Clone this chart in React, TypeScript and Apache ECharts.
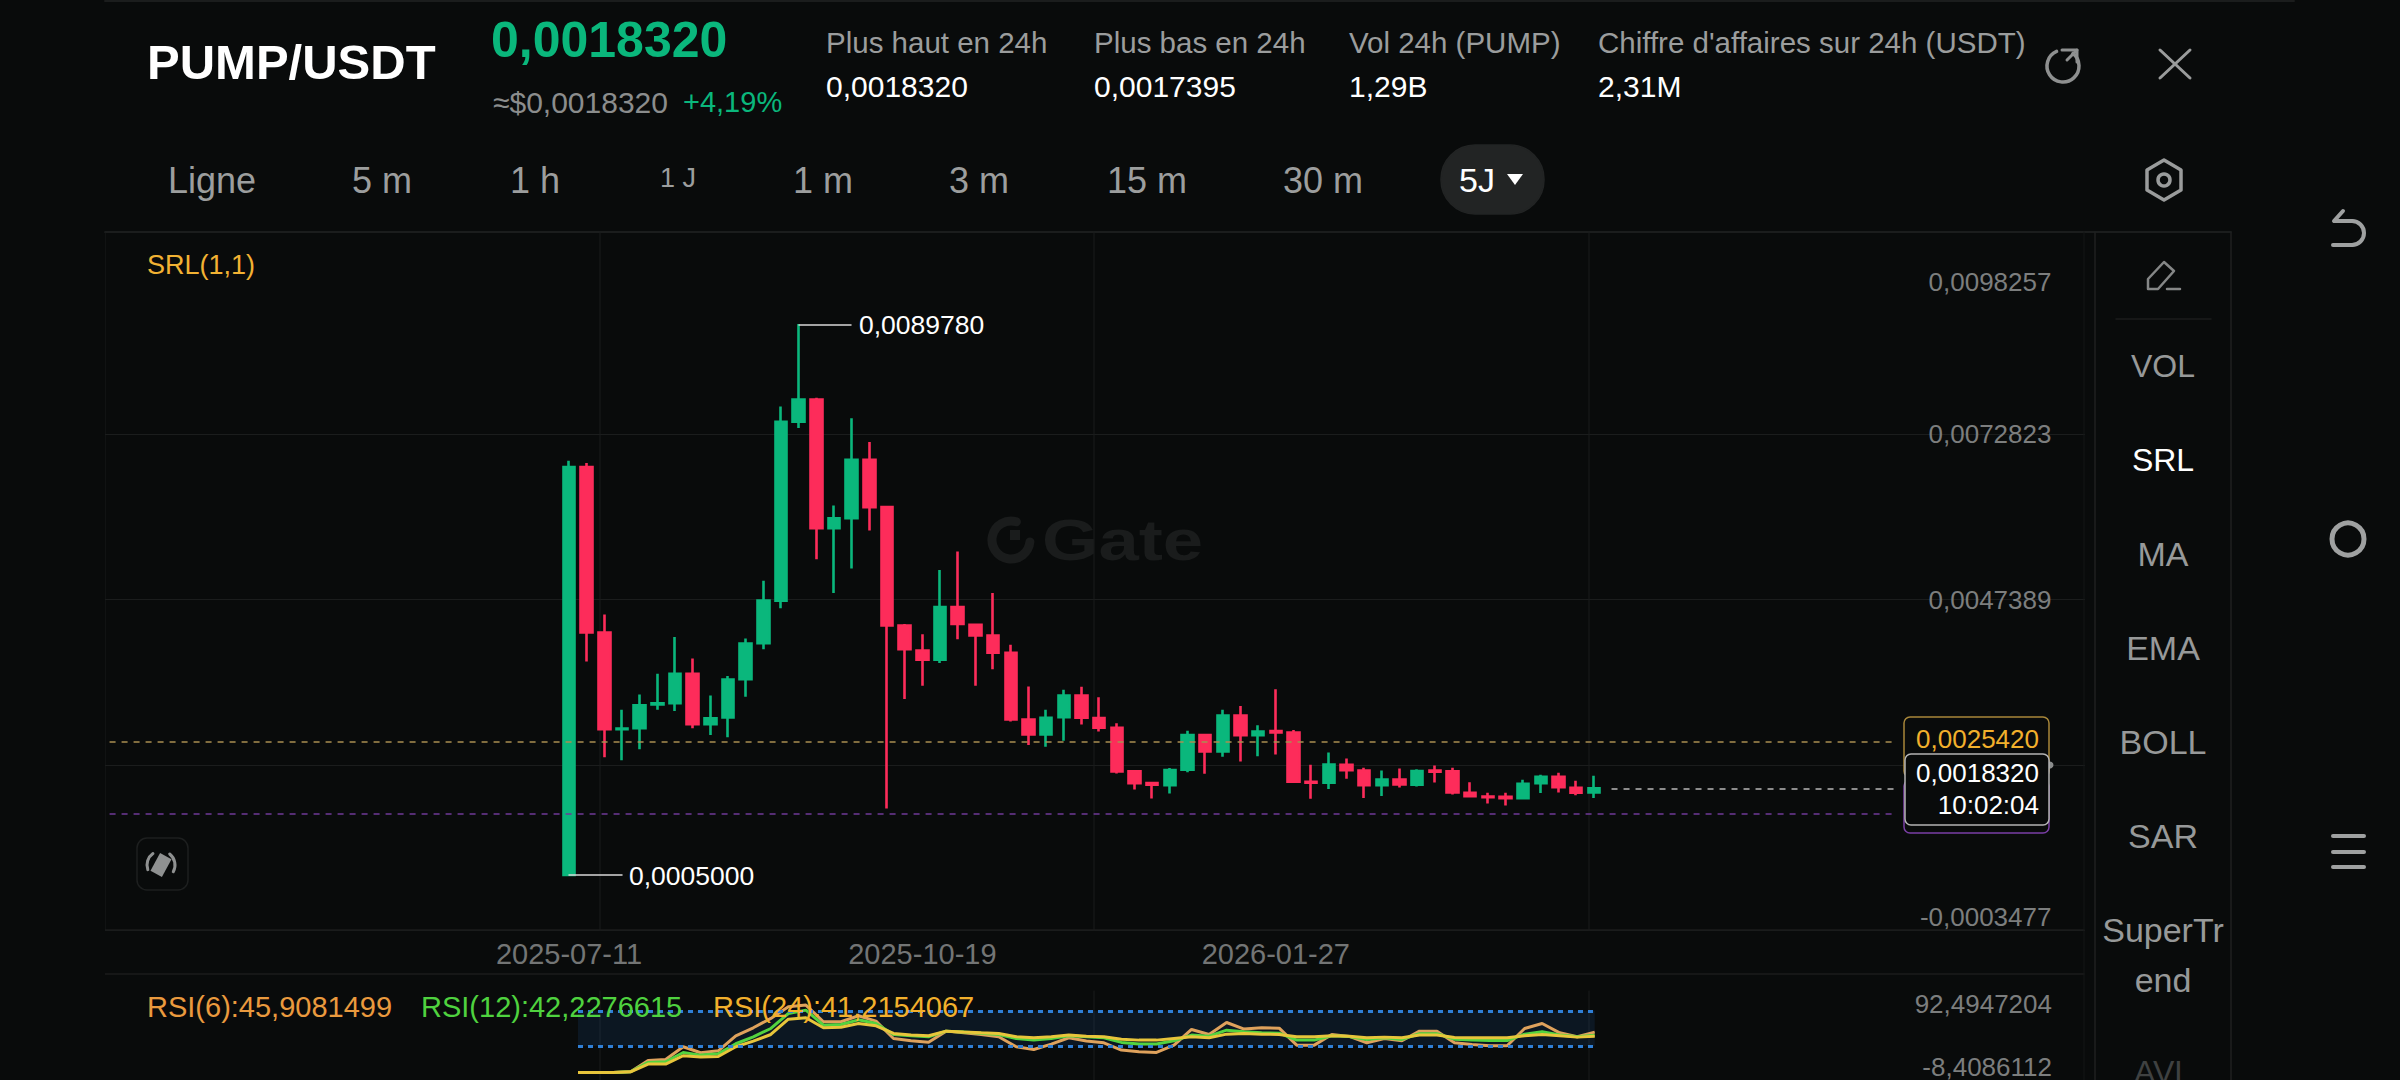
import React, { useEffect, useRef } from "react";
import * as echarts from "echarts";

const dates = ["2025-07-11","2025-07-16","2025-07-21","2025-07-26","2025-07-31","2025-08-05","2025-08-10","2025-08-15","2025-08-20","2025-08-25","2025-08-30","2025-09-04","2025-09-09","2025-09-14","2025-09-19","2025-09-24","2025-09-29","2025-10-04","2025-10-09","2025-10-14","2025-10-19","2025-10-24","2025-10-29","2025-11-03","2025-11-08","2025-11-13","2025-11-18","2025-11-23","2025-11-28","2025-12-03","2025-12-08","2025-12-13","2025-12-18","2025-12-23","2025-12-28","2026-01-02","2026-01-07","2026-01-12","2026-01-17","2026-01-22","2026-01-27","2026-02-01","2026-02-06","2026-02-11","2026-02-16","2026-02-21","2026-02-26","2026-03-03","2026-03-08","2026-03-13","2026-03-18","2026-03-23","2026-03-28","2026-04-02","2026-04-07","2026-04-12","2026-04-17","2026-04-22","2026-04-27"];
const labelledDates = ["2025-07-11", "2025-10-19", "2026-01-27"];

const opens = [0.0005,0.006779,0.004232,0.002741,0.002759,0.003124,0.003142,0.003596,0.002818,0.002924,0.003513,0.004067,0.004722,0.007475,0.007817,0.005836,0.005989,0.006891,0.00616,0.004338,0.003955,0.003814,0.004621,0.00435,0.004185,0.003918,0.002893,0.002662,0.002928,0.003262,0.002913,0.002764,0.002093,0.001913,0.001882,0.002118,0.002652,0.0024,0.002954,0.002652,0.002713,0.002693,0.001933,0.001918,0.002195,0.002108,0.001882,0.001969,0.001887,0.002108,0.002093,0.001764,0.001708,0.001703,0.001682,0.001913,0.00201,0.001841,0.001769];
const closes = [0.006779,0.004232,0.002741,0.002753,0.003112,0.003142,0.003596,0.002818,0.002912,0.003507,0.004061,0.004722,0.007475,0.007817,0.005836,0.005989,0.006891,0.00616,0.004338,0.003973,0.003814,0.004621,0.004362,0.004185,0.00392,0.002893,0.002662,0.002918,0.003262,0.002918,0.002764,0.002093,0.001913,0.001887,0.002113,0.002652,0.0024,0.002954,0.002652,0.002708,0.002693,0.001933,0.001918,0.0022,0.002113,0.001882,0.001969,0.001892,0.002098,0.002087,0.001769,0.001713,0.001698,0.001682,0.001903,0.00201,0.001851,0.001764,0.001832];
const lows = [0.0005,0.003784,0.002311,0.002263,0.002434,0.003042,0.003024,0.002759,0.002652,0.002617,0.003242,0.003973,0.004604,0.00738,0.005358,0.004839,0.005217,0.0058,0.001521,0.003207,0.003413,0.003761,0.004126,0.003413,0.003666,0.002862,0.002498,0.002472,0.002564,0.002816,0.002708,0.002062,0.001816,0.001677,0.001754,0.002082,0.002057,0.002318,0.002246,0.002328,0.002354,0.001933,0.001672,0.001821,0.00198,0.001682,0.001713,0.001846,0.001862,0.001923,0.001739,0.001698,0.0016,0.001569,0.001672,0.001759,0.001769,0.001728,0.001682];
const highs = [0.006873,0.006838,0.004509,0.003042,0.003277,0.003596,0.004162,0.003831,0.00326,0.00356,0.004138,0.005028,0.00771,0.008978,0.007846,0.006184,0.007528,0.007162,0.00616,0.004362,0.004203,0.005193,0.005476,0.004362,0.004839,0.004041,0.0034,0.003041,0.003349,0.003395,0.003236,0.002836,0.002103,0.001933,0.002144,0.002718,0.002662,0.003041,0.003098,0.002805,0.003359,0.002729,0.002195,0.002385,0.002292,0.002149,0.002108,0.002139,0.002128,0.002185,0.002149,0.001928,0.001764,0.001764,0.001964,0.002041,0.002072,0.001949,0.002026];

const rsi6 = [0.2,0.2,0.2,0.9,13.8,14.9,29.3,22.5,24.7,41.7,50.8,61.4,74.6,76.5,57.6,57.6,64.4,58.3,38.7,36.1,34.5,47.0,45.1,43.2,40.6,29.3,26.2,32.3,39.5,35.7,33.8,25.5,23.6,22.8,31.1,48.9,43.2,56.8,49.3,50.8,50.4,31.1,31.1,43.2,41.0,33.8,38.7,36.1,47.0,47.0,33.8,31.9,30.4,30.4,50.0,55.7,45.1,40.6,45.9];
const rsi12 = [0.2,0.2,0.2,0.9,11.5,12.3,22.8,19.8,21.3,32.7,40.6,50.0,67.0,70.8,53.8,54.6,59.8,55.7,43.2,41.7,40.6,47.0,45.9,44.7,43.2,38.7,36.8,38.7,41.7,40.6,39.5,34.2,32.3,32.3,36.1,42.5,41.3,48.1,46.3,45.1,44.7,36.8,36.8,41.7,41.0,37.6,39.5,37.6,44.0,44.0,37.9,36.8,36.4,36.4,43.6,46.3,42.5,40.6,42.2];
const rsi24 = [0.2,0.2,0.2,0.9,9.6,9.6,19.1,17.6,18.3,29.3,35.7,43.2,60.6,62.1,50.8,51.5,55.7,53.0,44.4,42.5,41.7,47.0,45.9,45.1,44.4,40.6,39.5,40.6,42.5,41.3,40.6,37.9,36.8,36.8,38.7,40.6,39.5,43.6,44.4,43.6,43.2,40.6,40.6,41.7,41.3,39.5,40.2,39.5,42.5,42.5,39.8,39.5,39.5,39.5,41.7,43.2,41.7,40.2,41.2];

const priceTicks = [-0.0003477, 0.0021955, 0.0047389, 0.0072823, 0.0098257];
const priceLabels = [-0.0003477, 0.0047389, 0.0072823, 0.0098257];
const rsiTicks = [-8.4086112, 92.4947204];
const srlHigh = 0.002542;
const srlLow = 0.0014353;
const lastPrice = 0.001832;

const tabs = [["Ligne", 212], ["5 m", 382], ["1 h", 535], ["1 J", 678], ["1 m", 823], ["3 m", 979], ["15 m", 1147], ["30 m", 1323]] as const;
const indicators = [["VOL", 366], ["SRL", 460], ["MA", 554], ["EMA", 648], ["BOLL", 742], ["SAR", 836], ["SuperTr", 930], ["end", 980]] as const;

const BG = "#090b0b";
const GREEN = "#0ab77c";
const RED = "#fd2c5a";
const GRIDC = "#1b1d1d";
const FONT = "'Liberation Sans', Arial, sans-serif";

const BAND = 17.67;
const PAD_L = 26;
const PAD_R = 28;
const MAIN_LEFT = 569 - BAND / 2 - PAD_L * BAND;
const MAIN_W = (PAD_L + 59 + PAD_R) * BAND;
const RBAND = 17.53;
const RPAD_L = 27;
const RPAD_R = 28;
const RSI_LEFT = 578 - RBAND / 2 - RPAD_L * RBAND;
const RSI_W = (RPAD_L + 59 + RPAD_R) * RBAND;

const fmt = (v: number, n: number) => v.toFixed(n).replace(".", ",");

function t(text: string, x: number, y: number, size: number, fill: string, o: any = {}) {
  const { align = "left", weight = "normal", z = 100, opacity = 1, scaleX = 1 } = o;
  return {
    type: "text", x, y, z, scaleX, silent: true,
    style: { text, fill, opacity, font: `${weight} ${size}px ${FONT}`, textAlign: align, textVerticalAlign: "middle" },
  };
}
function ln(x1: number, y1: number, x2: number, y2: number, stroke: string, lineWidth = 1, z = 1) {
  return { type: "line", z, silent: true, shape: { x1, y1, x2, y2 }, style: { stroke, lineWidth, lineCap: "round" } };
}
function poly(points: number[][], stroke: string, lineWidth: number, closed = false) {
  return { type: closed ? "polygon" : "polyline", z: 100, silent: true, shape: { points }, style: { stroke, fill: "none", lineWidth, lineJoin: "round", lineCap: "round" } };
}
function arc(cx: number, cy: number, r: number, a0: number, a1: number, stroke: string, lineWidth: number, z = 100) {
  return { type: "arc", z, silent: true, shape: { cx, cy, r, startAngle: a0, endAngle: a1 }, style: { stroke, fill: "none", lineWidth, lineCap: "round" } };
}
function box(x: number, y: number, w: number, h: number, fill: string, stroke: string, r: number, z = 100, lineWidth = 1.5) {
  return { type: "rect", z, silent: true, shape: { x, y, width: w, height: h, r }, style: { fill, stroke, lineWidth } };
}

const GR = "#9b9d9d";
const TABC = "#9c9e9e";

function chrome(): any[] {
  const els: any[] = [];
  // frame lines
  els.push(ln(105, 1, 2294, 1, "#1b1d1d", 2));
  els.push(ln(105, 232, 2231, 232, "#222424", 1.5));
  els.push(ln(105, 232, 105, 930, GRIDC));
  els.push(ln(105, 974, 2084, 974, GRIDC, 1.5));
  els.push(ln(105, 930, 2084, 930, GRIDC, 1.5));
  els.push(ln(2084, 232, 2084, 1080, "#141616"));
  for (const x of [600, 1094, 1589]) {
    els.push(ln(x, 232, x, 930, GRIDC));
    els.push(ln(x, 991, x, 1080, GRIDC));
  }
  // edge covers so the axis lines stop at the chart frame
  els.push({ type: "rect", z: 2, silent: true, shape: { x: 90, y: 233, width: 15, height: 847 }, style: { fill: BG } });
  els.push({ type: "rect", z: 2, silent: true, shape: { x: 2085, y: 233, width: 16, height: 847 }, style: { fill: BG } });

  // header
  els.push(t("PUMP/USDT", 147, 62, 49, "#ffffff", { weight: "bold" }));
  els.push(t("0,0018320", 491, 40, 50, GREEN, { weight: "bold" }));
  els.push(t("≈$0,0018320", 493, 102, 30, "#8b8d8d"));
  els.push(t("+4,19%", 683, 102, 29, GREEN));
  const stats = [
    ["Plus haut en 24h", "0,0018320", 826],
    ["Plus bas en 24h", "0,0017395", 1094],
    ["Vol 24h (PUMP)", "1,29B", 1349],
    ["Chiffre d'affaires sur 24h (USDT)", "2,31M", 1598],
  ] as const;
  for (const [a, b, x] of stats) {
    els.push(t(a, x, 42, 29.5, GR));
    els.push(t(b, x, 86, 30, "#ffffff"));
  }
  // refresh and close
  els.push(arc(2063, 66, 16, -0.9, 4.3, "#8e9090", 3.5));
  els.push(poly([[2062, 50], [2077, 50], [2077, 62]], "#8e9090", 3));
  els.push(ln(2067, 60, 2077, 50, "#8e9090", 3, 100));
  els.push(ln(2160, 50, 2190, 78, "#9a9c9c", 3, 100));
  els.push(ln(2190, 50, 2160, 78, "#9a9c9c", 3, 100));

  // tabs
  for (const [label, x] of tabs) {
    els.push(t(label, x, label === "1 J" ? 178 : 180, label === "1 J" ? 27 : 36, TABC, { align: "center" }));
  }
  els.push(box(1441, 145, 103, 69, "#222424", "#222424", 34));
  els.push(t("5J", 1477, 180, 34, "#ffffff", { align: "center" }));
  els.push({ type: "polygon", z: 101, silent: true, shape: { points: [[1507, 174], [1523, 174], [1515, 185]] }, style: { fill: "#ffffff" } });
  els.push(poly([[2164, 160], [2181, 170], [2181, 190], [2164, 200], [2147, 190], [2147, 170]], "#9a9c9c", 3.5, true));
  els.push({ type: "circle", z: 100, silent: true, shape: { cx: 2164, cy: 180, r: 6 }, style: { fill: "none", stroke: "#9a9c9c", lineWidth: 3.5 } });

  // android nav
  els.push(poly([[2343, 211], [2334, 221], [2352, 221]], "#9fa1a1", 4));
  els.push(arc(2352, 233, 12, -Math.PI / 2, Math.PI / 2, "#9fa1a1", 4));
  els.push(ln(2352, 245, 2333, 245, "#9fa1a1", 4, 100));
  els.push({ type: "circle", z: 100, silent: true, shape: { cx: 2348, cy: 539, r: 16 }, style: { fill: "none", stroke: "#9fa1a1", lineWidth: 5 } });
  for (const y of [836, 852, 867]) els.push(ln(2333, y, 2364, y, "#9fa1a1", 4, 100));

  // indicator panel
  els.push(ln(2095, 232, 2095, 1080, "#1f2121", 1.5, 3));
  els.push(ln(2231, 232, 2231, 1080, "#1f2121", 1.5, 3));
  els.push(ln(2116, 319, 2211, 319, "#1b1d1d", 1.5, 3));
  els.push(poly([[2148, 289], [2148, 279], [2164, 262], [2174, 271], [2158, 289]], "#858787", 2.5, true));
  els.push(ln(2167, 289, 2180, 289, "#858787", 2.5, 100));
  for (const [label, y] of indicators) {
    els.push(t(label, 2163, y, label === "VOL" || label === "SRL" ? 32 : 34, label === "SRL" ? "#ffffff" : "#979999", { align: "center" }));
  }
  els.push(t("AVL", 2163, 1072, 32, "#3f4141", { align: "center" }));

  // watermark
  els.push(arc(1011, 540, 19, 0.1, 5.0, "#1a1c1c", 9, 1));
  els.push({ type: "rect", z: 1, silent: true, shape: { x: 1010, y: 530, width: 10, height: 10 }, style: { fill: "#1a1c1c" } });
  els.push(t("Gate", 1042, 540, 58, "#1a1c1c", { weight: "bold", z: 1, scaleX: 1.25 }));

  // indicator titles
  els.push(t("SRL(1,1)", 147, 265, 27, "#f2b233"));
  els.push(t("RSI(6):45,9081499", 147, 1007, 29, "#ea9a3e"));
  els.push(t("RSI(12):42,2276615", 421, 1007, 29, "#4fd23f"));
  els.push(t("RSI(24):41,2154067", 713, 1007, 29, "#f2b02c"));

  // extreme annotations
  els.push(ln(799, 325, 851, 325, "#d8d8d8", 1.5, 50));
  els.push(t("0,0089780", 859, 325, 26.5, "#ffffff"));
  els.push(ln(569, 875, 622, 875, "#d8d8d8", 1.5, 50));
  els.push(t("0,0005000", 629, 876, 26.5, "#ffffff"));

  // small tool button
  els.push(box(137, 838, 51, 52, "none", "#1d1f1f", 10, 100, 1.5));
  els.push({ type: "rect", z: 100, silent: true, x: 161, y: 865, rotation: -0.5, shape: { x: -6.5, y: -10, width: 13, height: 20 }, style: { fill: "#8f9191" } });
  els.push(arc(161, 865, 14, 2.8, 4.1, "#8f9191", 3));
  els.push(arc(161, 865, 14, -0.9, 0.5, "#8f9191", 3));

  // price boxes
  els.push(box(1904, 717, 145, 60, BG, "#a8873a", 6));
  els.push(box(1904, 780, 145, 53, BG, "#7a3fa6", 6));
  els.push(t(fmt(srlHigh, 7), 2039, 739, 26, "#f2b02c", { align: "right", z: 102 }));
  els.push(box(1905, 754, 144, 71, BG, "#b4b4b4", 6, 103));
  els.push(t(fmt(lastPrice, 7), 2039, 773, 26, "#ffffff", { align: "right", z: 104 }));
  els.push(t("10:02:04", 2039, 805, 26, "#ffffff", { align: "right", z: 104 }));
  els.push({ type: "circle", z: 102, silent: true, shape: { cx: 2050, cy: 765, r: 3.5 }, style: { fill: "#8a8c8c" } });
  return els;
}

function dashed(value: number, from: number, to: number, color: string) {
  return [
    { xAxis: from, yAxis: value, lineStyle: { color, type: [6, 6], width: 1.5 } },
    { xAxis: to, yAxis: value },
  ];
}

export default function App() {
  const ref = useRef<HTMLDivElement>(null);
  useEffect(() => {
    document.body.style.margin = "0";
    document.body.style.background = BG;
    const chart = echarts.init(ref.current!, undefined, { renderer: "svg" });
    const mainCats = [...Array(PAD_L).fill(""), ...dates, ...Array(PAD_R).fill("")];
    const rsiCats = [...Array(RPAD_L).fill(""), ...dates, ...Array(RPAD_R).fill("")];
    const candleRows = dates.map((_, i) => [i + PAD_L, opens[i], closes[i], lows[i], highs[i]]);
    const rsiSeries = (name: string, values: number[], color: string, extra: any = {}) => ({
      name, type: "line", xAxisIndex: 1, yAxisIndex: 1, showSymbol: false, silent: true,
      data: values.map((v, i) => [i + RPAD_L, v]),
      lineStyle: { color, width: 3 }, itemStyle: { color }, ...extra,
    });
    chart.setOption({
      animation: false,
      backgroundColor: BG,
      textStyle: { fontFamily: FONT },
      grid: [
        { left: MAIN_LEFT, top: 269, width: MAIN_W, height: 661 },
        { left: RSI_LEFT, top: 991, width: RSI_W, height: 89 },
      ],
      xAxis: [
        {
          type: "category", gridIndex: 0, data: mainCats, boundaryGap: true,
          axisLine: { show: false }, axisTick: { show: false }, splitLine: { show: false },
          axisLabel: {
            margin: 9, fontSize: 29, color: "#737575", fontFamily: FONT,
            interval: (_: number, v: string) => labelledDates.includes(v),
          },
        },
        {
          type: "category", gridIndex: 1, data: rsiCats, boundaryGap: true,
          axisLine: { show: false }, axisTick: { show: false }, axisLabel: { show: false }, splitLine: { show: false },
        },
      ],
      yAxis: [
        {
          type: "value", gridIndex: 0, position: "right", min: priceTicks[0], max: priceTicks[4], scale: true,
          axisLine: { show: false },
          axisTick: { show: false, customValues: priceTicks },
          splitLine: { show: true, showMaxLine: false, lineStyle: { color: GRIDC, width: 1 } },
          axisLabel: {
            inside: true, margin: 46, fontSize: 26, color: "#7c7e7e", fontFamily: FONT, customValues: priceLabels,
            verticalAlignMinLabel: "bottom", verticalAlignMaxLabel: "top",
            formatter: (v: number) => fmt(v, 7),
          },
        },
        {
          type: "value", gridIndex: 1, position: "right", min: rsiTicks[0], max: rsiTicks[1], scale: true,
          axisLine: { show: false },
          axisTick: { show: false, customValues: rsiTicks },
          splitLine: { show: false },
          axisLabel: {
            inside: true, margin: RSI_LEFT + RSI_W - 2052, fontSize: 26, color: "#7c7e7e", fontFamily: FONT, customValues: rsiTicks,
            verticalAlignMinLabel: "bottom", verticalAlignMaxLabel: "top",
            formatter: (v: number) => fmt(v, 7),
          },
        },
      ],
      series: [
        {
          type: "candlestick", xAxisIndex: 0, yAxisIndex: 0, barWidth: 12, silent: true,
          encode: { x: 0, y: [1, 2, 3, 4] },
          data: candleRows,
          itemStyle: { color: GREEN, color0: RED, borderColor: GREEN, borderColor0: RED, borderColorDoji: GREEN, borderWidth: 2.6 },
          markLine: {
            silent: true, symbol: "none", label: { show: false }, animation: false,
            data: [
              dashed(srlHigh, 0, 101, "#a98f52"),
              dashed(srlLow, 0, 101, "#6f3a98"),
              dashed(lastPrice, 85, 101, "#b8b8b8"),
            ],
          },
        },
        rsiSeries("RSI(6)", rsi6, "#dfa25c", {
          markArea: {
            silent: true,
            itemStyle: { color: "rgba(38,105,190,0.13)" },
            data: [[{ xAxis: RPAD_L, yAxis: 70 }, { xAxis: RPAD_L + 58, yAxis: 30 }]],
          },
          markLine: {
            silent: true, symbol: "none", label: { show: false }, animation: false,
            lineStyle: { color: "#2f7fd6", type: [5, 5], width: 3 },
            data: [70, 30].map((v) => [{ xAxis: RPAD_L, yAxis: v }, { xAxis: RPAD_L + 58, yAxis: v }]),
          },
        }),
        rsiSeries("RSI(12)", rsi12, "#53d33f"),
        rsiSeries("RSI(24)", rsi24, "#e8c53b"),
      ],
      graphic: { elements: chrome() },
    });
    return () => chart.dispose();
  }, []);
  return <div ref={ref} style={{ position: "fixed", left: 0, top: 0, width: 2400, height: 1080 }} />;
}
